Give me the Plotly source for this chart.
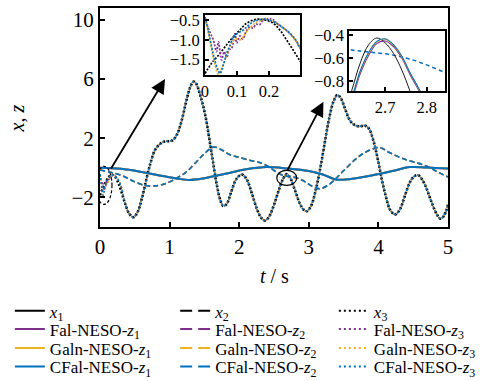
import plotly.graph_objects as go

# ---------------- main data ----------------
t1 = [0.0, 0.3, 0.6, 0.9, 1.1, 1.29, 1.5, 1.8, 2.1, 2.39, 2.7, 3.0, 3.2, 3.4, 3.6, 3.9, 4.2, 4.45, 4.7, 5.0]
x1 = [0.0, -0.07, -0.28, -0.55, -0.72, -0.82, -0.7, -0.4, -0.1, 0.05, -0.05, -0.22, -0.45, -0.8, -0.75, -0.52, -0.22, 0.05, 0.02, -0.05]

t2 = [0.0, 0.15, 0.31, 0.5, 0.65, 0.8, 0.95, 1.13, 1.25, 1.36, 1.5, 1.63, 1.75, 1.87, 2.0, 2.16, 2.3, 2.45,
      2.55, 2.65, 2.75, 2.85, 2.95, 3.05, 3.16, 3.3, 3.5, 3.71, 3.88, 4.02, 4.15, 4.3, 4.43, 4.58, 4.72, 4.86, 5.0]
x2 = [-0.15, -0.3, -0.51, -0.95, -1.2, -1.22, -1.05, -0.62, -0.25, 0.28, 0.95, 1.4, 1.2, 0.88, 0.7, 0.5, 0.35, 0.0,
      -0.35, -0.54, -0.6, -0.72, -0.95, -1.25, -1.41, -1.1, -0.2, 0.73, 1.2, 1.37, 1.05, 0.72, 0.5, 0.3, 0.05, -0.3, -0.62]

t3 = [0.00, 0.04, 0.09, 0.13, 0.17, 0.21, 0.26, 0.30, 0.36, 0.42, 0.48, 0.54, 0.60, 0.67, 0.73, 0.79, 0.86, 0.93,
      1.00, 1.05, 1.10, 1.15, 1.20, 1.25, 1.30, 1.34, 1.38, 1.43, 1.51, 1.60, 1.68, 1.73, 1.77, 1.82, 1.88, 1.96,
      2.04, 2.11, 2.18, 2.26, 2.32, 2.37, 2.43, 2.50, 2.57, 2.63, 2.68, 2.73, 2.80, 2.87, 2.92, 2.97, 3.03, 3.10,
      3.17, 3.24, 3.30, 3.36, 3.41, 3.46, 3.52, 3.58, 3.64, 3.72, 3.81, 3.87, 3.93, 3.99, 4.05, 4.11, 4.17, 4.24,
      4.31, 4.38, 4.45, 4.51, 4.57, 4.63, 4.70, 4.77, 4.84, 4.89, 4.94, 5.00]
x3 = [-1.85, -1.38, -0.92, -0.6, -0.48, -0.56, -0.98, -1.5, -2.4, -3.1, -3.34, -3.0, -2.1, -0.7, 0.4, 1.2, 1.6, 1.78,
      1.8, 1.88, 2.2, 2.8, 3.7, 4.7, 5.5, 5.82, 5.7, 5.05, 3.6, 1.1, -1.2, -2.2, -2.58, -2.45, -1.7, -0.75,
      -0.45, -0.8, -1.7, -2.85, -3.4, -3.56, -3.3, -2.5, -1.5, -0.75, -0.43, -0.65, -1.5, -2.4, -2.8, -2.93, -2.6, -1.5,
      0.1, 2.0, 3.5, 4.55, 4.92, 4.7, 4.0, 3.3, 2.95, 2.8, 2.85, 2.6, 1.8, 0.6, -0.8, -2.0, -2.85, -3.15,
      -2.8, -1.9, -1.0, -0.6, -0.5, -0.8, -1.5, -2.4, -3.15, -3.44, -3.25, -2.5]

# ---------------- inset 1: start-up transient of z3 ----------------
ins1_t_x3 = [0.0, 0.02, 0.047, 0.07, 0.089, 0.11, 0.13, 0.16, 0.19, 0.214, 0.235, 0.255, 0.275, 0.295, 0.31]
ins1_x3 = [-1.85, -1.6, -1.34, -1.1, -0.92, -0.74, -0.58, -0.48, -0.5, -0.58, -0.76, -1.0, -1.25, -1.51, -1.7]

ins1_t_cfal = [0.0, 0.01, 0.02, 0.03, 0.04, 0.047, 0.058, 0.068, 0.08, 0.089, 0.105, 0.12, 0.135, 0.15, 0.165,
               0.18, 0.2, 0.224, 0.245, 0.266, 0.285, 0.295, 0.31]
ins1_cfal = [-0.42, -0.75, -1.15, -1.5, -1.75, -1.85, -1.62, -1.34, -1.1, -0.92, -0.82, -0.75, -0.64, -0.54, -0.5,
             -0.48, -0.5, -0.58, -0.7, -0.83, -1.02, -1.17, -1.35]

ins1_t_galn = [0.0, 0.01, 0.02, 0.03, 0.042, 0.052, 0.0625, 0.073, 0.083, 0.095, 0.109, 0.12, 0.13, 0.143, 0.155,
               0.17, 0.19, 0.21, 0.228, 0.248, 0.266, 0.285, 0.295, 0.31]
ins1_galn = [-0.45, -0.8, -1.2, -1.58, -1.87, -1.72, -1.51, -1.28, -1.09, -0.97, -1.0, -0.92, -0.79, -0.68, -0.58,
             -0.52, -0.48, -0.52, -0.6, -0.72, -0.85, -1.03, -1.17, -1.35]

ins1_t_fal = [0.0, 0.01, 0.018, 0.026, 0.036, 0.042, 0.052, 0.06, 0.068, 0.076, 0.083, 0.094, 0.099, 0.109,
              0.118, 0.128, 0.14, 0.15, 0.16, 0.17, 0.18, 0.193, 0.2, 0.207, 0.215, 0.228, 0.248, 0.266, 0.285,
              0.295, 0.31]
ins1_fal = [-0.45, -0.7, -0.85, -1.0, -1.3, -1.05, -1.51, -1.3, -1.45, -1.25, -1.22, -0.84, -1.08, -0.9,
            -0.98, -0.8, -0.67, -0.7, -0.6, -0.62, -0.52, -0.45, -0.5, -0.46, -0.5, -0.6, -0.72, -0.85, -1.03,
            -1.17, -1.35]

# ---------------- inset 2: around t = 2.7 ----------------
ins2_t = [2.60, 2.62, 2.64, 2.66, 2.68, 2.70, 2.72, 2.74, 2.76, 2.78, 2.80]
ins2_x3 = [-1.1, -0.88, -0.646, -0.487, -0.426, -0.467, -0.559, -0.704, -0.89, -1.1, -1.3]
ins2_galn = [-1.15, -0.95, -0.72, -0.56, -0.458, -0.437, -0.487, -0.588, -0.733, -0.863, -1.0]
ins2_cfal = [-1.15, -0.95, -0.715, -0.555, -0.455, -0.433, -0.483, -0.583, -0.728, -0.858, -0.995]
ins2_fal = [-1.17, -0.97, -0.74, -0.58, -0.475, -0.452, -0.50, -0.60, -0.745, -0.875, -1.01]
ins2_t_z2 = [2.60, 2.64, 2.68, 2.72, 2.76, 2.80, 2.84, 2.86]
ins2_cfal_z2 = [-0.52, -0.54, -0.555, -0.575, -0.61, -0.66, -0.72, -0.74]

# tick labels
main_xticks = [0, 1, 2, 3, 4, 5]
main_yticks = [-2, 2, 6, 10]
ins1_xticks = [0, 0.1, 0.2]
ins1_yticks = [-0.5, -1.0, -1.5]
ins2_xticks = [2.7, 2.8]
ins2_yticks = [-0.4, -0.6, -0.8]

BLACK = '#000000'
FAL = '#7E2F8E'
GALN = '#EDB120'
CFAL = '#0072BD'
FONT = 'Liberation Serif, Times New Roman, serif'

DASH_MAIN = '5px,3px'
DOT_MAIN = '2px,2px'

fig = go.Figure()


def z3_main(ts, vs):
    tt = list(ts) + [t for t in t3 if t > ts[-1]]
    vv = list(vs) + [v for t, v in zip(t3, x3) if t > ts[-1]]
    return tt, vv


# main curves (black references first, estimates over them)
fig.add_trace(go.Scatter(x=t1, y=x1, mode='lines', line=dict(color=BLACK, width=1.2, shape='spline'), showlegend=False))
fig.add_trace(go.Scatter(x=t2, y=x2, mode='lines', line=dict(color=BLACK, width=1.0, dash=DASH_MAIN, shape='spline'), showlegend=False))
fig.add_trace(go.Scatter(x=t3, y=x3, mode='lines', line=dict(color=BLACK, width=2.6, dash=DOT_MAIN, shape='spline'), showlegend=False))

for col, (ts, vs) in [(FAL, (ins1_t_fal, ins1_fal)), (GALN, (ins1_t_galn, ins1_galn)), (CFAL, (ins1_t_cfal, ins1_cfal))]:
    fig.add_trace(go.Scatter(x=t1, y=x1, mode='lines', line=dict(color=col, width=2, shape='spline'), showlegend=False))
    fig.add_trace(go.Scatter(x=t2, y=x2, mode='lines', line=dict(color=col, width=1.6, dash=DASH_MAIN, shape='spline'), showlegend=False))
    tt, vv = z3_main(ts, vs)
    fig.add_trace(go.Scatter(x=tt, y=vv, mode='lines', line=dict(color=col, width=1.6, dash=DOT_MAIN, shape='spline'), showlegend=False))

# inset 1
fig.add_trace(go.Scatter(x=ins1_t_x3, y=ins1_x3, xaxis='x2', yaxis='y2', mode='lines',
                         line=dict(color=BLACK, width=1.7, dash='2px,1.5px', shape='spline'), showlegend=False))
for col, ts, vs in [(FAL, ins1_t_fal, ins1_fal), (GALN, ins1_t_galn, ins1_galn), (CFAL, ins1_t_cfal, ins1_cfal)]:
    fig.add_trace(go.Scatter(x=ts, y=vs, xaxis='x2', yaxis='y2', mode='lines',
                             line=dict(color=col, width=1.7, dash='2px,1.5px', shape='spline'), showlegend=False))

# inset 2
fig.add_trace(go.Scatter(x=ins2_t_z2, y=ins2_cfal_z2, xaxis='x3', yaxis='y3', mode='lines',
                         line=dict(color=CFAL, width=1.5, dash='4px,3px', shape='spline'), showlegend=False))
fig.add_trace(go.Scatter(x=ins2_t, y=ins2_x3, xaxis='x3', yaxis='y3', mode='lines',
                         line=dict(color=BLACK, width=0.9, shape='spline'), showlegend=False))
for col, vs in [(FAL, ins2_fal), (GALN, ins2_galn), (CFAL, ins2_cfal)]:
    fig.add_trace(go.Scatter(x=ins2_t, y=vs, xaxis='x3', yaxis='y3', mode='lines',
                             line=dict(color=col, width=1.1, shape='spline'), showlegend=False))

# legend: 3 columns x 4 rows, one small legend per entry
names = ['Fal-NESO', 'Galn-NESO', 'CFal-NESO']
cols = [FAL, GALN, CFAL]
dashes = ['solid', '12px,6px', '2px,3px']
col_x = [-0.259, 0.216, 0.672]
row_y = [-0.385, -0.468, -0.555, -0.639]
legend_layout = {}
n = 0
for k in range(3):
    entries = [('<i>x</i><sub>%d</sub>' % (k + 1), BLACK)] + \
              [('%s-<i>z</i><sub>%d</sub>' % (names[j], k + 1), cols[j]) for j in range(3)]
    for r, (label, color) in enumerate(entries):
        n += 1
        lid = 'legend' if n == 1 else 'legend%d' % n
        fig.add_trace(go.Scatter(x=[None], y=[None], mode='lines', name=label,
                                 line=dict(color=color, width=2, dash=dashes[k]), legend=lid))
        legend_layout[lid] = dict(x=col_x[k], y=row_y[r], xanchor='left', yanchor='middle',
                                  bgcolor='rgba(0,0,0,0)', font=dict(family=FONT, size=17, color='black'),
                                  itemwidth=30, borderwidth=0)

axis_common = dict(showline=True, linecolor='black', mirror=True, showgrid=False, zeroline=False,
                   ticks='inside', tickcolor='black')

fig.update_layout(
    width=482, height=381,
    margin=dict(l=100, r=34, t=8, b=154, autoexpand=False),
    paper_bgcolor='white', plot_bgcolor='white',
    font=dict(family=FONT, color='black'),
    xaxis=dict(range=[0, 5], tickvals=main_xticks, ticklen=5, tickwidth=1.5, linewidth=2,
               tickfont=dict(size=21), **axis_common),
    yaxis=dict(range=[-4, 10.8], tickvals=main_yticks, ticklen=5, tickwidth=1.5, linewidth=2,
               tickfont=dict(size=21), **axis_common),
    xaxis2=dict(domain=[0.3017, 0.5747], anchor='y2', range=[0, 0.297], tickvals=ins1_xticks,
                ticktext=['0', '0.1', '0.2'], ticklen=4, tickwidth=1.5, linewidth=2,
                tickfont=dict(size=16.5), **axis_common),
    yaxis2=dict(domain=[0.694, 0.968], anchor='x2', range=[-1.89, -0.37], tickvals=ins1_yticks,
                tickformat='.1f', ticklen=4, tickwidth=1.5, linewidth=2,
                tickfont=dict(size=16.5), **axis_common),
    xaxis3=dict(domain=[0.7164, 0.9914], anchor='y3', range=[2.614, 2.844], tickvals=ins2_xticks,
                tickformat='.1f', ticklen=4, tickwidth=1.5, linewidth=2,
                tickfont=dict(size=16.5), **axis_common),
    yaxis3=dict(domain=[0.621, 0.895], anchor='x3', range=[-0.887, -0.365], tickvals=ins2_yticks,
                tickformat='.1f', ticklen=4, tickwidth=1.5, linewidth=2,
                tickfont=dict(size=16.5), **axis_common),
    shapes=[
        dict(type='circle', xref='x', yref='y', x0=-0.057, x1=0.172, y0=-2.47, y1=0.10,
             line=dict(color='black', width=1.2, dash='3px,2px')),
        dict(type='circle', xref='x', yref='y', x0=2.54, x1=2.825, y0=-1.19, y1=-0.17,
             line=dict(color='black', width=1.2)),
    ],
    annotations=[
        dict(x=0.934, y=6.0, ax=0.144, ay=-0.17, xref='x', yref='y', axref='x', ayref='y', text='',
             showarrow=True, arrowhead=2, arrowsize=1.6, arrowwidth=1.8, arrowcolor='black'),
        dict(x=3.21, y=4.46, ax=2.68, ay=-0.28, xref='x', yref='y', axref='x', ayref='y', text='',
             showarrow=True, arrowhead=2, arrowsize=1.6, arrowwidth=1.8, arrowcolor='black'),
        dict(x=-0.240, y=0.498, xref='paper', yref='paper', text='<i>x</i>, <i>z</i>', showarrow=False,
             xanchor='center', yanchor='middle', textangle=-90, font=dict(size=20, family=FONT)),
        dict(x=0.5, y=-0.226, xref='paper', yref='paper', text='<i>t</i> / s', showarrow=False,
             xanchor='center', yanchor='middle', font=dict(size=20, family=FONT)),
    ],
)
fig.update_layout(**legend_layout)

fig.write_html('out.html', config={'displayModeBar': False},
               post_script="document.body.style.margin='0';")
